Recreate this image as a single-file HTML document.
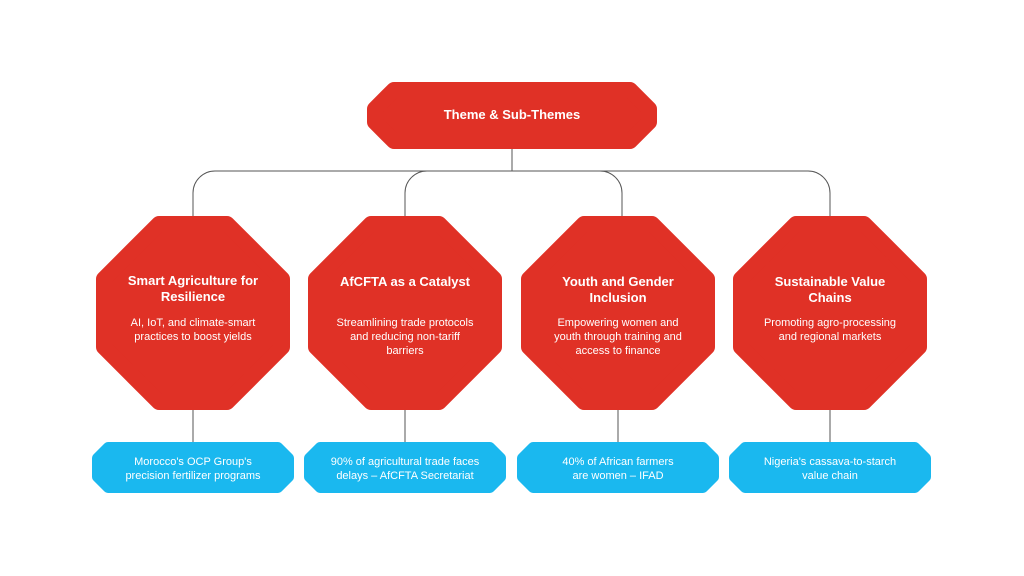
<!DOCTYPE html>
<html><head><meta charset="utf-8"><style>
body{margin:0;background:#fff;}
svg{display:block}
text{font-family:"Liberation Sans",sans-serif;fill:#fff;text-anchor:middle}
.t{font-weight:bold;font-size:13px}
.d{font-size:11px}
</style></head><body>
<svg width="1024" height="576" viewBox="0 0 1024 576">
<g fill="none" stroke="#555" stroke-width="1">
<path d="M512 149V171"/>
<path d="M193 216V193a22 22 0 0 1 22-22H808a22 22 0 0 1 22 22V216"/>
<path d="M405 216V193a22 22 0 0 1 22-22H600a22 22 0 0 1 22 22V216"/>
<path d="M193 410V442M405 410V442M618 410V442M830 410V442"/>
</g>
<g fill="#e03126" stroke="#e03126" stroke-width="16" stroke-linejoin="round">
<polygon points="394,90 630,90 649,109 649,122 630,141 394,141 375,122 375,109"/>
<polygon points="159,224 227,224 282,279 282,347 227,402 159,402 104,347 104,279"/>
<polygon points="371,224 439,224 494,279 494,347 439,402 371,402 316,347 316,279"/>
<polygon points="584,224 652,224 707,279 707,347 652,402 584,402 529,347 529,279"/>
<polygon points="796,224 864,224 919,279 919,347 864,402 796,402 741,347 741,279"/>
</g>
<g fill="#1ab8ef" stroke="#1ab8ef" stroke-width="10" stroke-linejoin="round">
<polygon points="108,447 278,447 289,458 289,477 278,488 108,488 97,477 97,458"/>
<polygon points="320,447 490,447 501,458 501,477 490,488 320,488 309,477 309,458"/>
<polygon points="533,447 703,447 714,458 714,477 703,488 533,488 522,477 522,458"/>
<polygon points="745,447 915,447 926,458 926,477 915,488 745,488 734,477 734,458"/>
</g>
<text class="t" x="512" y="119">Theme &amp; Sub-Themes</text>
<text class="t" x="193" y="285">Smart Agriculture for</text>
<text class="t" x="193" y="301">Resilience</text>
<text class="d" x="193" y="326">AI, IoT, and climate-smart</text>
<text class="d" x="193" y="340">practices to boost yields</text>
<text class="t" x="405" y="286">AfCFTA as a Catalyst</text>
<text class="d" x="405" y="326">Streamlining trade protocols</text>
<text class="d" x="405" y="340">and reducing non-tariff</text>
<text class="d" x="405" y="354">barriers</text>
<text class="t" x="618" y="286">Youth and Gender</text>
<text class="t" x="618" y="302">Inclusion</text>
<text class="d" x="618" y="326">Empowering women and</text>
<text class="d" x="618" y="340">youth through training and</text>
<text class="d" x="618" y="354">access to finance</text>
<text class="t" x="830" y="286">Sustainable Value</text>
<text class="t" x="830" y="302">Chains</text>
<text class="d" x="830" y="326">Promoting agro-processing</text>
<text class="d" x="830" y="340">and regional markets</text>
<text class="d" x="193" y="465">Morocco's OCP Group's</text>
<text class="d" x="193" y="479">precision fertilizer programs</text>
<text class="d" x="405" y="465">90% of agricultural trade faces</text>
<text class="d" x="405" y="479">delays – AfCFTA Secretariat</text>
<text class="d" x="618" y="465">40% of African farmers</text>
<text class="d" x="618" y="479">are women – IFAD</text>
<text class="d" x="830" y="465">Nigeria's cassava-to-starch</text>
<text class="d" x="830" y="479">value chain</text>
</svg>
</body></html>
